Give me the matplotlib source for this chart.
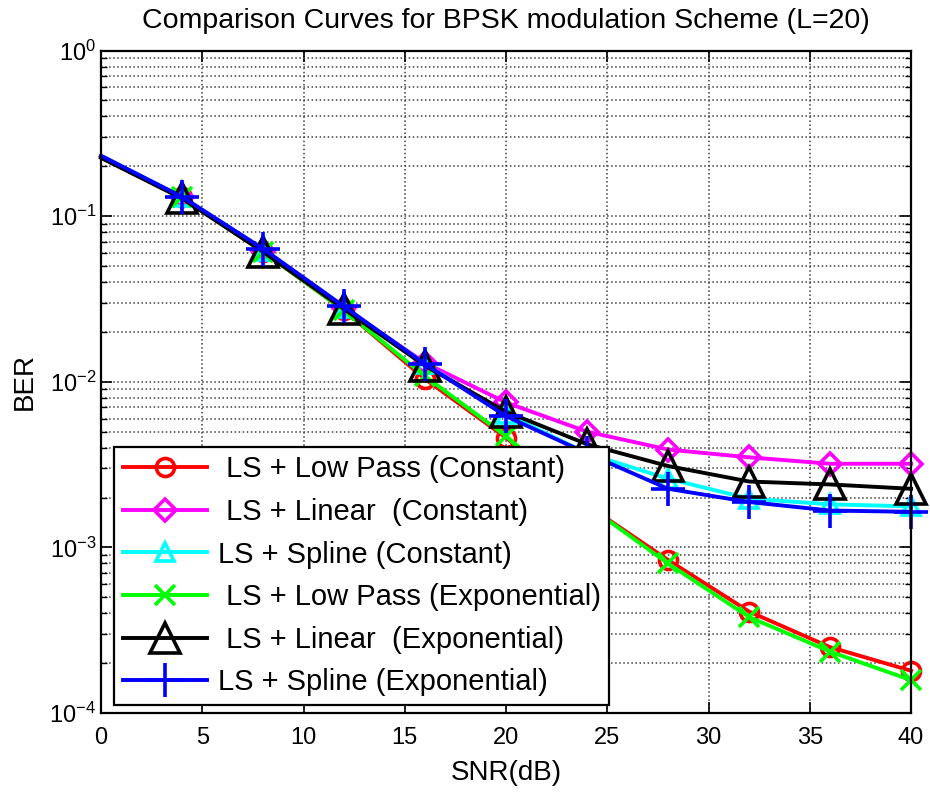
import numpy as np
import matplotlib
matplotlib.use("Agg")
import matplotlib.pyplot as plt
from matplotlib.ticker import LogLocator, NullFormatter

# MATLAB-ish look: Helvetica-like font, ticks pointing in
plt.rcParams['font.family'] = ['Liberation Sans', 'DejaVu Sans']
plt.rcParams['mathtext.fontset'] = 'custom'
plt.rcParams['mathtext.rm'] = 'Liberation Sans'
plt.rcParams['mathtext.it'] = 'Liberation Sans'

# SNR points (dB)
snr = [0, 4, 8, 12, 16, 20, 24, 28, 32, 36, 40]

# BER values
ber_lowpass_const = [0.23, 0.13, 0.061, 0.027, 0.0104, 0.0046, 0.0018, 0.00084, 0.00041, 0.00025, 0.00018]
ber_linear_const = [0.23, 0.13, 0.062, 0.028, 0.0130, 0.0075, 0.0050, 0.0039, 0.0035, 0.0032, 0.0032]
ber_spline_const = [0.23, 0.13, 0.062, 0.028, 0.0128, 0.0064, 0.0037, 0.0026, 0.00197, 0.00182, 0.00177]
ber_lowpass_exp = [0.23, 0.13, 0.061, 0.027, 0.0108, 0.0047, 0.0018, 0.00080, 0.00038, 0.000235, 0.000158]
ber_linear_exp = [0.225, 0.128, 0.061, 0.0275, 0.0125, 0.0066, 0.0042, 0.0031, 0.0025, 0.0024, 0.00226]
ber_spline_exp = [0.232, 0.131, 0.0636, 0.0285, 0.0128, 0.0062, 0.0037, 0.00226, 0.00188, 0.00167, 0.00164]

labels = [' LS + Low Pass (Constant)', ' LS + Linear  (Constant)', 'LS + Spline (Constant)',
          ' LS + Low Pass (Exponential)', ' LS + Linear  (Exponential)', 'LS + Spline (Exponential)']

fig = plt.figure(figsize=(9.3, 7.95), dpi=100)
ax = fig.add_axes([0.1086, 0.1031, 0.871, 0.8333])

# marker style for each curve: (data, color, marker, size)
curves = [
    (ber_lowpass_const, '#ff0000', 'o', 13),
    (ber_linear_const, '#ff00ff', 'D', 11),
    (ber_spline_const, '#00ffff', '^', 13),
    (ber_lowpass_exp, '#00ff00', 'x', 14),
    (ber_linear_exp, 'black', '^', 22),
    (ber_spline_exp, '#0000ff', '+', 24),
]

for (ber, col, mk, ms), lab in zip(curves, labels):
    ax.semilogy(snr, ber, color=col, linewidth=2.8, marker=mk, markersize=ms,
                markerfacecolor='none', markeredgecolor=col, markeredgewidth=2.6,
                markevery=slice(1, None), clip_on=False, label=lab)

ax.set_xlim(0, 40)
ax.set_ylim(1e-4, 1)
ax.set_xticks(np.arange(0, 41, 5))
ax.yaxis.set_minor_locator(LogLocator(base=10, subs=np.arange(2, 10)))
ax.yaxis.set_minor_formatter(NullFormatter())

# grid: dotted, major on x, major + minor on y
ax.grid(True, which='major', axis='both', linestyle=':', color='0.25', linewidth=1.1)
ax.grid(True, which='minor', axis='y', linestyle=':', color='0.25', linewidth=1.1)

ax.tick_params(which='both', direction='in', top=True, right=True, labelsize=17)
ax.tick_params(axis='x', pad=10)
ax.tick_params(which='major', length=8, width=1.2)
ax.tick_params(which='minor', length=4, width=1.0)
for sp in ax.spines.values():
    sp.set_linewidth(1.6)

ax.set_title('Comparison Curves for BPSK modulation Scheme (L=20)', fontsize=20.5, pad=16)
ax.set_xlabel('SNR(dB)', fontsize=20, labelpad=8)
ax.set_ylabel('BER', fontsize=20, labelpad=8)

leg = ax.legend(loc='lower left', bbox_to_anchor=(0.016, 0.012), borderaxespad=0,
                fontsize=21, fancybox=False, framealpha=1, edgecolor='black',
                handlelength=2.9, handletextpad=0.35, labelspacing=0.5, borderpad=0.3)
leg.get_frame().set_linewidth(1.6)

fig.savefig('out.png', dpi=100)
plt.close()
